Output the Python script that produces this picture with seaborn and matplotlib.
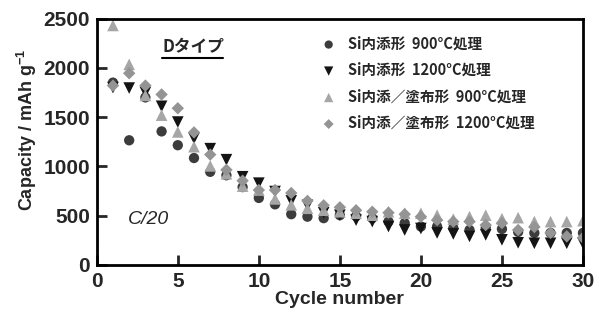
import pandas as pd
import matplotlib
matplotlib.use("Agg")
import matplotlib.pyplot as plt
import seaborn as sns
from matplotlib import font_manager

# サイクル番号
cycles = list(range(1, 31))

# 各試料の容量 (mAh/g)
cap_a = [1850, 1265, 1700, 1355, 1215, 1085, 945, 910, 790, 680,
         615, 515, 490, 475, 505, 495, 475, 440, 425, 390,
         390, 375, 355, 375, 365, 335, 325, 325, 325, 325]
cap_b = [1800, 1795, 1750, 1610, 1450, 1285, 1180, 1068, 895, 830,
         745, 650, 605, 530, 505, 455, 440, 390, 355, 370,
         325, 315, 290, 305, 255, 225, 220, 220, 220, 220]
cap_c = [2430, 2035, 1720, 1520, 1350, 1200, 1005, 925, 800, 760,
         670, 610, 575, 555, 540, 525, 505, 540, 525, 525,
         505, 465, 490, 505, 470, 480, 440, 440, 440, 450]
cap_d = [1820, 1945, 1820, 1730, 1590, 1345, 1120, 965, 855, 760,
         760, 730, 650, 605, 585, 555, 540, 530, 515, 490,
         455, 440, 440, 405, 425, 355, 385, 325, 290, 275]

labels = ["Si内添形  900°C処理", "Si内添形  1200°C処理",
          "Si内添／塗布形  900°C処理", "Si内添／塗布形  1200°C処理"]

df = pd.concat([
    pd.DataFrame({"cycle": cycles, "cap": v, "sample": lab})
    for v, lab in zip([cap_a, cap_b, cap_c, cap_d], labels)
])

sns.set_style("white")
names = {f.name for f in font_manager.fontManager.ttflist}
latin = "Liberation Sans Narrow" if "Liberation Sans Narrow" in names else "Liberation Sans"
plt.rcParams["font.family"] = [latin, "Noto Sans CJK JP", "DejaVu Sans"]
plt.rcParams["mathtext.fontset"] = "custom"
plt.rcParams["mathtext.rm"] = latin
plt.rcParams["mathtext.bf"] = latin + ":bold"

fig = plt.figure(figsize=(6.01, 3.2), dpi=100)
ax = fig.add_axes([0.161, 0.172, 0.809, 0.770])

palette = {labels[0]: "#3c3c3c", labels[1]: "#141414",
           labels[2]: "#a6a6a6", labels[3]: "#949494"}
markers = {labels[0]: "o", labels[1]: "v", labels[2]: "^", labels[3]: "D"}
sizes = {labels[0]: 55, labels[1]: 70, labels[2]: 70, labels[3]: 40}

for lab in labels:
    sns.scatterplot(data=df[df["sample"] == lab], x="cycle", y="cap",
                    color=palette[lab], marker=markers[lab], s=sizes[lab],
                    edgecolor="none", label=lab, ax=ax)

ax.set_xlim(0, 30)
ax.set_ylim(0, 2500)
ax.set_xticks(range(0, 31, 5))
ax.set_yticks(range(0, 2501, 500))
for sp in ax.spines.values():
    sp.set_linewidth(2)
    sp.set_color("black")
ax.tick_params(direction="in", length=7, width=2, labelsize=15,
               left=True, bottom=True, pad=5)
for t in ax.get_xticklabels() + ax.get_yticklabels():
    t.set_fontweight("bold")

ax.set_xlabel("Cycle number", fontsize=14, fontweight="bold", labelpad=0)
ax.set_ylabel(r"Capacity / mAh g$^{\mathbf{-1}}$", fontsize=13,
              fontweight="bold")
ax.yaxis.set_label_coords(-0.118, 0.55)

# タイトル的な注記
ax.text(0.135, 0.885, "Dタイプ", transform=ax.transAxes, fontsize=12,
        fontweight="bold", ha="left", va="center",
        family=["Noto Sans CJK JP", "DejaVu Sans"])
ax.plot([0.135, 0.26], [0.84, 0.84], transform=ax.transAxes,
        color="black", lw=1.5)
ax.text(0.065, 0.185, "C/20", transform=ax.transAxes, fontsize=14,
        style="italic", ha="left", va="center")

leg = ax.legend(loc="upper left", bbox_to_anchor=(0.42, 0.985), frameon=False,
                handletextpad=0.3, labelspacing=0.72, markerscale=0.8,
                prop={"family": ["Noto Sans CJK JP", "DejaVu Sans"],
                      "weight": "bold", "size": 10.5})

fig.savefig("out.png", dpi=100)
